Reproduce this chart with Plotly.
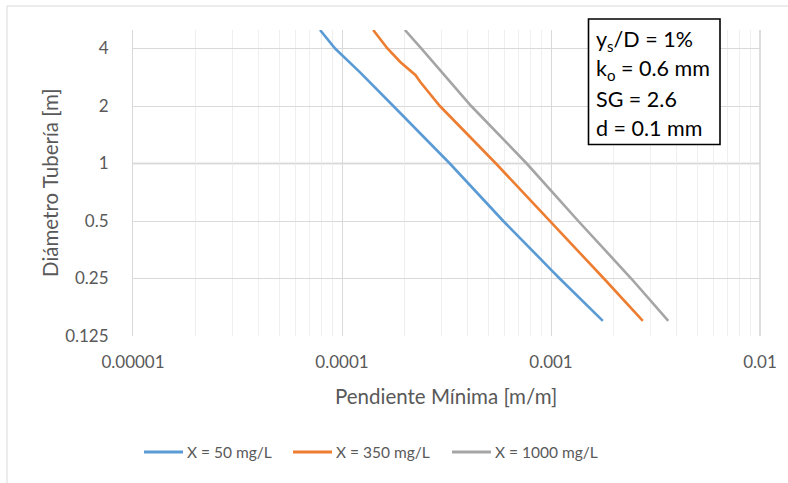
import plotly.graph_objects as go
import numpy as np

# ---- data ----
series_names = ["X = 50 mg/L", "X = 350 mg/L", "X = 1000 mg/L"]
series_colors = ["#5b9bd5", "#ed7d31", "#a5a5a5"]

blue_D = [5.0, 4.0, 3.0, 2.67, 2.0, 1.0, 0.5, 0.276, 0.25, 0.15]
blue_S = [7.85e-5, 9.27e-5, 1.22e-4, 1.36e-4, 1.76e-4, 3.28e-4, 5.91e-4, 1.007e-3, 1.10e-3, 1.77e-3]

orange_D = [5.0, 4.0, 3.4, 2.9, 2.67, 2.0, 1.0, 0.5, 0.287, 0.25, 0.15]
orange_S = [1.41e-4, 1.65e-4, 1.90e-4, 2.25e-4, 2.37e-4, 2.94e-4, 5.45e-4, 9.89e-4, 1.59e-3, 1.79e-3, 2.75e-3]

gray_D = [5.0, 4.0, 2.0, 1.0, 0.5, 0.25, 0.15]
gray_S = [2.0e-4, 2.40e-4, 4.15e-4, 7.65e-4, 1.35e-3, 2.42e-3, 3.64e-3]

x_tickvals = [1e-5, 1e-4, 1e-3, 1e-2]
x_ticktext = ["0.00001", "0.0001", "0.001", "0.01"]
y_tickvals = [0.125, 0.25, 0.5, 1, 2, 4]
y_ticktext = ["0.125", "0.25", "0.5", "1", "2", "4"]

box_lines = ["y<sub>s</sub>/D = 1%", "k<sub>o</sub> = 0.6 mm", "SG = 2.6", "d = 0.1 mm"]

# ---- layout constants ----
W, H = 788, 483
L, R, T, B = 133, 28, 30, 147
PW, PH = W - L - R, H - T - B

def px(x):
    return (x - L) / PW

def py(y):
    return (H - B - y) / PH

FONT = "Lato"
TXT = "#595959"

fig = go.Figure()
for D, S, name, col in zip([blue_D, orange_D, gray_D], [blue_S, orange_S, gray_S],
                           series_names, series_colors):
    fig.add_trace(go.Scatter(x=S, y=D, mode="lines", name=name, showlegend=False,
                             line=dict(color=col, width=2.6)))

minor_x = [m * 10.0 ** e for e in range(-5, -2) for m in range(2, 10)]

fig.update_layout(
    width=W, height=H,
    margin=dict(l=L, r=R, t=T, b=B),
    paper_bgcolor="white", plot_bgcolor="white",
    font=dict(family=FONT, color=TXT, size=16),
    showlegend=False,
    xaxis=dict(type="log", range=[-5, -2], tickvals=x_tickvals, ticktext=x_ticktext,
               showgrid=True, gridcolor="#d9d9d9", gridwidth=1,
               minor=dict(tickvals=minor_x, showgrid=True, gridcolor="#efefef", gridwidth=1),
               zeroline=False, showline=False, ticks="",
               ticklabelstandoff=14, tickfont=dict(size=17, color=TXT)),
    yaxis=dict(type="log", range=[np.log10(0.125), np.log10(5)], tickvals=y_tickvals,
               ticktext=y_ticktext, showgrid=True, gridcolor="#d9d9d9", gridwidth=1,
               zeroline=False, showline=True, linecolor="#d9d9d9", ticks="",
               ticklabelstandoff=20, tickfont=dict(size=17, color=TXT)),
)

shapes = [
    # outer chart border
    dict(type="rect", xref="paper", yref="paper", x0=px(7), x1=px(800), y0=py(500), y1=py(6),
         line=dict(color="#d9d9d9", width=1), fillcolor="rgba(0,0,0,0)", layer="below"),
    # horizontal axis line at D = 1
    dict(type="line", xref="paper", yref="y", x0=0, x1=1, y0=1, y1=1,
         line=dict(color="#bfbfbf", width=1.5), layer="below"),
    # right edge line
    dict(type="line", xref="paper", yref="paper", x0=1, x1=1, y0=0, y1=1,
         line=dict(color="#c6c6c6", width=1.2), layer="below"),
    # parameter box
    dict(type="rect", xref="paper", yref="paper", x0=px(588.5), x1=px(720), y0=py(144.5), y1=py(19),
         line=dict(color="black", width=1.6), fillcolor="white", layer="above"),
]

annotations = [
    dict(text="Pendiente Mínima [m/m]", xref="paper", yref="paper", x=px(446), y=py(396),
         xanchor="center", yanchor="middle", showarrow=False, font=dict(size=20.5, color=TXT)),
    dict(text="Diámetro Tubería [m]", xref="paper", yref="paper", x=px(50), y=py(183),
         xanchor="center", yanchor="middle", textangle=-90, showarrow=False,
         font=dict(size=20.5, color=TXT)),
]
for i, t in enumerate(box_lines):
    annotations.append(dict(text=t, xref="paper", yref="paper", x=px(594), y=py(40 + 29.3 * i),
                            xanchor="left", yanchor="middle", showarrow=False,
                            font=dict(size=21.5, color="black", family=FONT)))

# legend (drawn manually to match spacing)
leg_x0 = [144, 293, 452]
leg_y = 452
for x0, name, col in zip(leg_x0, series_names, series_colors):
    shapes.append(dict(type="line", xref="paper", yref="paper", x0=px(x0), x1=px(x0 + 39),
                       y0=py(leg_y), y1=py(leg_y), line=dict(color=col, width=2.8)))
    annotations.append(dict(text=name, xref="paper", yref="paper", x=px(x0 + 41), y=py(leg_y),
                            xanchor="left", yanchor="middle", showarrow=False,
                            font=dict(size=15.5, color=TXT)))

fig.update_layout(shapes=shapes, annotations=annotations)

fig.write_html("out.html")
